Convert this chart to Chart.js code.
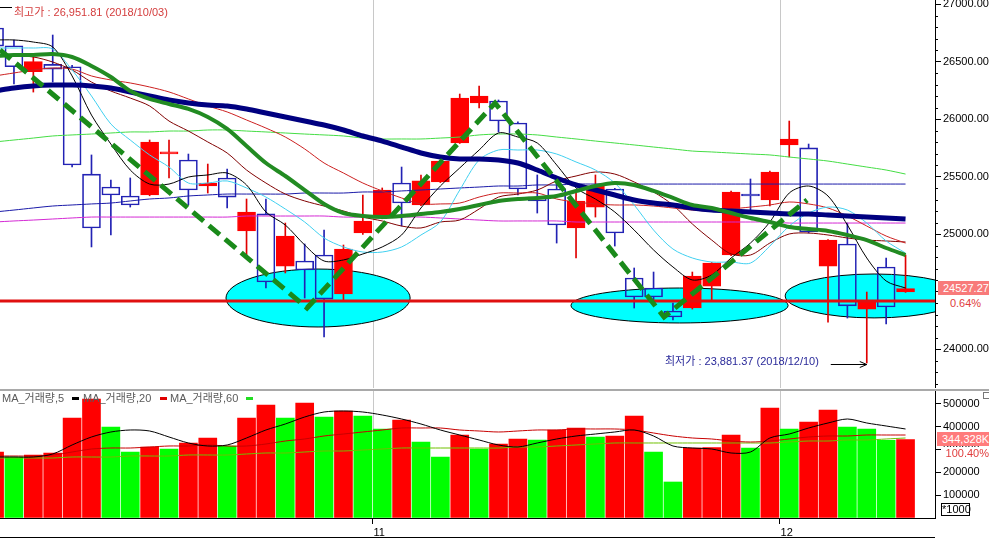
<!DOCTYPE html>
<html>
<head>
<meta charset="utf-8">
<script src="https://cdn.jsdelivr.net/npm/chart.js@4.4.1/dist/chart.umd.min.js"></script>
<style>
  html, body { margin: 0; padding: 0; background: #fff; overflow: hidden; }
  #wrap { position: relative; width: 989px; height: 541px; font-family: "Liberation Sans", "Noto Sans CJK KR", sans-serif; font-size: 11px; }
  canvas { position: absolute; left: 0; }
  #priceCanvas { top: 0; }
  #volCanvas { top: 388px; }
  .t { position: absolute; white-space: nowrap; line-height: 12px; }
  .dash { position: absolute; height: 3px; width: 7px; }
</style>
</head>
<body>
<div id="wrap">
  <canvas id="priceCanvas" width="989" height="388"></canvas>
  <canvas id="volCanvas" width="989" height="153"></canvas>

  <div style="position:absolute;left:0;top:7px;width:12px;height:1px;background:#000"></div>
  <div class="t" style="left:14px;top:6px;color:#d43c3c">최고가 : 26,951.81 (2018/10/03)</div>
  <div class="t" style="left:665px;top:355px;color:#2a2a9a">최저가 : 23,881.37 (2018/12/10)</div>

  <div class="t" style="left:938px;top:281px;width:46px;height:14px;line-height:14px;padding-left:5px;background:#f87a7a;color:#fff">24527.27</div>
  <div class="t" style="left:942px;top:297px;width:47px;text-align:center;background:#fff;color:#e03c3c">0.64%</div>

  <div class="t" style="left:2px;top:392px;color:#5a5a5a">MA_거래량,5</div>
  <div class="dash" style="left:72px;top:397px;background:#000"></div>
  <div class="t" style="left:83px;top:392px;color:#5a5a5a">MA_거래량,20</div>
  <div class="dash" style="left:160px;top:397px;background:#e00000"></div>
  <div class="t" style="left:170px;top:392px;color:#5a5a5a">MA_거래량,60</div>
  <div class="dash" style="left:246px;top:397px;background:#22dd22"></div>

  <div style="position:absolute;left:983px;top:392px;width:5px;height:5px;border:1px solid #777"></div>
  <div class="t" style="left:937px;top:432px;width:47px;height:14px;line-height:14px;padding-left:5px;background:#ff7b7b;color:#fff">344,328K</div>
  <div class="t" style="left:942px;top:447px;width:47px;text-align:right;background:#fff;color:#e03c3c">100.40%</div>
  <div class="t" style="left:941px;top:503px;width:27px;height:11px;line-height:11px;border:1px solid #000;text-align:center;color:#000">*1000</div>
</div>

<script>
// Daily candles, 2018-10-04 .. 2018-12-12
const openP  = [26794, 26640, 26414, 26478, 26457, 25524, 25411, 25333, 25342, 25700, 25646, 25420, 25490, 25029, 25177, 24724, 24768, 24820, 24481, 25011, 25142, 25446, 25255, 25455, 25794, 26142, 26159, 25968, 25324, 25394, 25055, 25237, 25394, 24620, 24533, 24333, 24359, 24550, 24820, 25350, 25298, 25777, 25751, 24724, 24916, 24350, 24716, 24499];
const highP  = [26810, 26690, 26542, 26733, 26470, 25690, 25472, 25490, 25820, 25820, 25698, 25611, 25568, 25307, 25307, 25098, 24916, 25037, 24907, 25342, 25403, 25585, 25516, 25646, 26220, 26290, 26168, 25977, 25516, 25446, 25359, 25516, 25400, 24707, 24672, 24403, 24672, 24755, 25375, 25481, 25550, 25985, 25785, 24955, 25098, 24498, 24794, 24820];
const lowP   = [26620, 26307, 26237, 26324, 25585, 24890, 24994, 25237, 25335, 25490, 25255, 25359, 25229, 24820, 24533, 24664, 24446, 24107, 24429, 25000, 25135, 25072, 25250, 25450, 25790, 26098, 25890, 25342, 25185, 24924, 24794, 25150, 24898, 24359, 24385, 24255, 24350, 24429, 24815, 25203, 25246, 25672, 25011, 24237, 24272, 23881, 24220, 24495];
const closeP = [26637, 26457, 26501, 26437, 25603, 25055, 25342, 25255, 25803, 25714, 25385, 25446, 25324, 25194, 24585, 24985, 24690, 24437, 24872, 25116, 25385, 25272, 25464, 25637, 26185, 26203, 25985, 25394, 25290, 25081, 25290, 25420, 25011, 24455, 24455, 24281, 24637, 24750, 25368, 25333, 25542, 25829, 25020, 24950, 24377, 24420, 24368, 24527];

// price moving averages
const ma5   = [26690, 26690, 26672, 26629, 26377, 26037, 25785, 25559, 25437, 25437, 25498, 25516, 25533, 25429, 25194, 25081, 24907, 24768, 24777, 24829, 24890, 24994, 25229, 25420, 25577, 25733, 25881, 25846, 25794, 25603, 25403, 25307, 25194, 25037, 24864, 24716, 24603, 24646, 24794, 24924, 25107, 25359, 25420, 25333, 25081, 24794, 24594, 24533];
const ma10  = [26620, 26620, 26620, 26611, 26429, 26203, 25959, 25820, 25690, 25585, 25446, 25446, 25464, 25403, 25324, 25220, 25107, 24968, 24890, 24846, 24846, 24890, 24994, 25107, 25385, 25646, 25733, 25733, 25733, 25698, 25629, 25559, 25446, 25255, 25037, 24872, 24794, 24759, 24759, 24750, 24898, 25072, 25185, 25237, 25211, 25098, 24942, 24837];
const ma20  = [26551, 26551, 26542, 26498, 26429, 26324, 26246, 26185, 26116, 25985, 25898, 25803, 25707, 25559, 25446, 25350, 25290, 25246, 25203, 25150, 25116, 25072, 25055, 25107, 25124, 25220, 25324, 25350, 25385, 25464, 25507, 25542, 25524, 25455, 25368, 25255, 25090, 24950, 24829, 24820, 24924, 25003, 25011, 24994, 24968, 24950, 24942, 24933];
const ma30  = [26377, 26403, 26429, 26446, 26437, 26377, 26342, 26316, 26281, 26238, 26177, 26116, 26064, 25994, 25924, 25846, 25742, 25620, 25533, 25446, 25377, 25316, 25264, 25264, 25272, 25324, 25359, 25359, 25359, 25307, 25281, 25264, 25255, 25255, 25246, 25229, 25211, 25203, 25220, 25237, 25255, 25281, 25264, 25229, 25159, 25072, 24985, 24924];
const ma60  = [26551, 26559, 26559, 26568, 26542, 26464, 26368, 26246, 26177, 26133, 26090, 26020, 25916, 25768, 25620, 25507, 25385, 25264, 25185, 25159, 25150, 25159, 25177, 25194, 25220, 25255, 25290, 25307, 25316, 25333, 25377, 25420, 25446, 25429, 25377, 25316, 25255, 25229, 25185, 25142, 25107, 25064, 25046, 25029, 24994, 24950, 24881, 24820];
const ma90  = [26246, 26272, 26290, 26298, 26298, 26290, 26272, 26238, 26203, 26168, 26142, 26124, 26116, 26090, 26055, 26020, 25985, 25950, 25907, 25855, 25811, 25759, 25707, 25672, 25655, 25655, 25646, 25620, 25559, 25490, 25429, 25385, 25342, 25298, 25272, 25255, 25229, 25211, 25203, 25194, 25185, 25177, 25177, 25168, 25159, 25150, 25142, 25133];
const ma120 = [25803, 25820, 25837, 25855, 25864, 25872, 25881, 25890, 25890, 25898, 25898, 25907, 25907, 25898, 25890, 25881, 25872, 25864, 25855, 25837, 25829, 25829, 25829, 25837, 25846, 25864, 25872, 25872, 25864, 25846, 25829, 25811, 25794, 25777, 25759, 25742, 25724, 25716, 25707, 25698, 25690, 25672, 25655, 25637, 25611, 25585, 25559, 25524];
const ma200 = [25194, 25211, 25229, 25246, 25255, 25264, 25272, 25290, 25307, 25316, 25333, 25342, 25350, 25350, 25350, 25350, 25359, 25359, 25359, 25368, 25368, 25377, 25385, 25394, 25403, 25411, 25420, 25420, 25429, 25429, 25437, 25437, 25437, 25437, 25437, 25437, 25437, 25437, 25437, 25437, 25437, 25437, 25437, 25437, 25437, 25437, 25437, 25437];
const ma240 = [25107, 25116, 25124, 25133, 25142, 25150, 25150, 25150, 25150, 25150, 25150, 25150, 25150, 25159, 25159, 25159, 25159, 25159, 25150, 25150, 25150, 25150, 25150, 25142, 25133, 25124, 25116, 25116, 25116, 25116, 25107, 25107, 25107, 25107, 25107, 25107, 25107, 25107, 25107, 25107, 25107, 25098, 25098, 25098, 25098, 25098, 25098, 25098];

// volume (x1000)
const volume = [289500, 267500, 276300, 285100, 438600, 521900, 399100, 289500, 311400, 302600, 329000, 350900, 315800, 438600, 495600, 438600, 504400, 443000, 469300, 447400, 390400, 429800, 333300, 267500, 364000, 302600, 324600, 346500, 342100, 386000, 394700, 355300, 359700, 447400, 289500, 157900, 307000, 309200, 364000, 307000, 482500, 390400, 421100, 473700, 399100, 390400, 341000, 344328];
const volumeBefore = 270000;
const volMa5  = [267500, 267500, 267500, 280700, 320200, 355300, 377200, 386000, 381600, 355300, 329000, 315800, 320200, 350900, 386000, 412300, 443000, 464900, 469300, 464900, 451800, 434200, 412300, 386000, 364000, 342100, 320200, 311400, 329000, 346500, 359700, 368400, 377200, 386000, 359700, 315800, 307000, 302600, 285100, 289500, 350900, 368400, 394700, 416700, 434200, 416700, 403500, 390400];
const volMa20 = [271900, 271900, 271900, 276300, 289500, 302600, 307000, 307000, 311400, 315800, 315800, 320200, 315800, 315800, 324600, 337700, 346500, 359700, 368400, 377200, 386000, 394700, 394700, 394700, 386000, 381600, 377200, 381600, 386000, 386000, 390400, 390400, 390400, 386000, 372800, 359700, 350900, 346500, 337700, 333300, 337700, 346500, 355300, 359700, 359700, 364000, 364000, 364000];
const volMa60 = [263200, 263200, 263200, 263200, 267500, 267500, 267500, 271900, 271900, 271900, 276300, 276300, 276300, 280700, 285100, 285100, 289500, 293900, 293900, 298200, 302600, 307000, 307000, 307000, 307000, 307000, 307000, 311400, 311400, 315800, 320200, 324600, 329000, 329000, 329000, 329000, 329000, 329000, 329000, 329000, 329000, 333300, 337700, 337700, 342100, 342100, 346500, 350900];

// month boundaries (between day slots) and their labels
const monthStarts = [19.5, 40.5];
const monthLabels = ['11', '12'];

// axis ticks
const priceTicksFrom = 23700, priceTicksTo = 27000, priceMinorStep = 100, priceMajorStep = 500;
const volumeTicks = [0, 100000, 200000, 300000, 400000, 500000];

// drawn annotations, in day-index / price units
const supportPrice = 24420;
const trendDay   = [0.28, 16.12, 25.82, 34.54, 41.92];
const trendPrice = [26603, 24359, 26142, 24281, 25298];
const zoneDay      = [16.69, 35.34, 45.38];
const zoneDaySpan  = [4.75, 5.6, 4.59];
const zonePrice    = [24446, 24381, 24464];
const zonePriceSpan = [252, 152, 191];

const xMin = 0.28, xMax = 48.52;
const FONT = "'Liberation Sans', 'Noto Sans CJK KR', sans-serif";
Chart.defaults.font.family = FONT;
Chart.defaults.font.size = 11;

const RED = '#ff0000', BLUE = '#2222b4';
const days = closeP.map((_, i) => i);
const up = days.map(i => closeP[i] >= openP[i]);
const xy = arr => arr.map((v, i) => ({ x: i, y: v }));
const maLine = (data, color, width, order) => ({
  type: 'line', data: xy(data), borderColor: color, borderWidth: width,
  pointRadius: 0, tension: 0.3, fill: false, order
});

const priceDecor = {
  id: 'priceDecor',
  beforeDatasetsDraw(chart) {
    const { ctx, chartArea: a, scales: { x, y } } = chart;
    ctx.save();
    ctx.beginPath();
    ctx.rect(a.left, a.top, a.right - a.left, a.bottom - a.top);
    ctx.clip();
    ctx.strokeStyle = '#c8c8c8';
    ctx.lineWidth = 1;
    monthStarts.forEach(m => {
      const px = Math.round(x.getPixelForValue(m)) + 0.5;
      ctx.beginPath(); ctx.moveTo(px, a.top); ctx.lineTo(px, a.bottom); ctx.stroke();
    });
    zoneDay.forEach((d, i) => {
      const cx = x.getPixelForValue(d), cy = y.getPixelForValue(zonePrice[i]);
      const rx = x.getPixelForValue(d + zoneDaySpan[i]) - cx;
      const ry = cy - y.getPixelForValue(zonePrice[i] + zonePriceSpan[i]);
      ctx.beginPath();
      ctx.ellipse(cx, cy, rx, ry, 0, 0, Math.PI * 2);
      ctx.fillStyle = '#00ffff';
      ctx.fill();
      ctx.strokeStyle = '#000';
      ctx.stroke();
    });
    ctx.restore();
  },
  afterDraw(chart) {
    const { ctx, scales: { x, y } } = chart;
    ctx.save();
    ctx.strokeStyle = '#000';
    ctx.lineWidth = 1;
    y.ticks.forEach(t => {
      if (t.value % priceMajorStep === 0) return;
      const py = Math.round(y.getPixelForValue(t.value)) + 0.5;
      ctx.beginPath(); ctx.moveTo(y.left, py); ctx.lineTo(y.left + 3, py); ctx.stroke();
    });
    // arrow to the lowest low
    const lowDay = lowP.indexOf(Math.min(...lowP));
    const ex = x.getPixelForValue(lowDay), ey = Math.round(y.getPixelForValue(lowP[lowDay])) + 1.5;
    ctx.beginPath();
    ctx.moveTo(ex - 36, ey); ctx.lineTo(ex, ey);
    ctx.moveTo(ex - 7, ey - 3); ctx.lineTo(ex, ey); ctx.lineTo(ex - 7, ey + 3);
    ctx.stroke();
    ctx.restore();
  }
};

new Chart(document.getElementById('priceCanvas'), {
  type: 'bar',
  data: {
    datasets: [
      { type: 'bar', data: days.map(i => ({ x: i, y: [Math.max(openP[i], closeP[i]), highP[i]] })),
        backgroundColor: up.map(u => u ? '#e00000' : BLUE), barThickness: 1, grouped: false, order: 30 },
      { type: 'bar', data: days.map(i => ({ x: i, y: [lowP[i], Math.min(openP[i], closeP[i])] })),
        backgroundColor: up.map(u => u ? '#e00000' : BLUE), barThickness: 1, grouped: false, order: 30 },
      { type: 'bar', data: days.map(i => ({ x: i, y: [openP[i], closeP[i]] })),
        backgroundColor: up.map(u => u ? RED : 'rgba(0,0,0,0)'), borderColor: up.map(u => u ? RED : BLUE),
        borderWidth: 1, borderSkipped: false, barThickness: 18, minBarLength: 2, grouped: false, order: 29 },
      maLine(ma240, '#d428d4', 1, 20),
      maLine(ma200, '#1a1aa8', 1, 19),
      maLine(ma120, '#44dd44', 1, 18),
      maLine(ma20, '#800000', 1, 17),
      maLine(ma30, '#cc2020', 1, 16),
      maLine(ma10, '#40d0f0', 1, 15),
      maLine(ma5, '#000000', 1, 14),
      maLine(ma90, '#000080', 5, 12),
      maLine(ma60, '#228b22', 4, 11),
      { type: 'line', data: [{ x: xMin, y: supportPrice }, { x: xMax, y: supportPrice }],
        borderColor: '#e01010', borderWidth: 3, pointRadius: 0, order: 5 },
      { type: 'line', data: trendDay.map((d, i) => ({ x: d, y: trendPrice[i] })),
        borderColor: '#1a8a1a', borderWidth: 5, borderDash: [14, 7], pointRadius: 0, tension: 0, order: 4 }
    ]
  },
  options: {
    responsive: false,
    animation: false,
    events: [],
    layout: { padding: 0 },
    plugins: { legend: { display: false }, tooltip: { enabled: false } },
    scales: {
      x: { type: 'linear', min: xMin, max: xMax, offset: false, bounds: 'data', display: false },
      y: {
        type: 'linear', position: 'right', min: 23663.5, max: 27037.5, bounds: 'data', beginAtZero: false,
        afterBuildTicks: s => {
          const list = [];
          for (let v = priceTicksFrom; v <= priceTicksTo; v += priceMinorStep) list.push({ value: v });
          s.ticks = list;
        },
        afterFit: s => { s.width = 54; s.paddingTop = 0; s.paddingBottom = 0; },
        ticks: {
          autoSkip: false, padding: 2, color: '#000',
          callback: v => v % priceMajorStep === 0 ? v.toFixed(2) : ''
        },
        grid: {
          drawOnChartArea: false, offset: false, tickLength: 6,
          tickColor: c => (c.tick && c.tick.value % priceMajorStep === 0) ? '#000' : 'rgba(0,0,0,0)'
        },
        border: { display: true, color: '#000', width: 1 }
      }
    }
  },
  plugins: [priceDecor]
});

const volDecor = {
  id: 'volDecor',
  beforeDatasetsDraw(chart) {
    const { ctx, chartArea: a, scales: { x } } = chart;
    ctx.save();
    ctx.strokeStyle = '#c8c8c8';
    ctx.lineWidth = 1;
    monthStarts.forEach(m => {
      const px = Math.round(x.getPixelForValue(m)) + 0.5;
      ctx.beginPath(); ctx.moveTo(px, a.top); ctx.lineTo(px, a.bottom); ctx.stroke();
    });
    ctx.restore();
  },
  afterDraw(chart) {
    const { ctx, scales: { x } } = chart;
    ctx.save();
    ctx.fillStyle = '#a9a9a9';
    ctx.fillRect(0, 1, chart.width, 2);
    ctx.fillStyle = '#000';
    ctx.fillRect(0, 149, x.right, 1);
    ctx.restore();
  }
};

new Chart(document.getElementById('volCanvas'), {
  type: 'bar',
  data: {
    datasets: [
      { type: 'bar', data: xy(volume),
        backgroundColor: volume.map((v, i) => v >= (i ? volume[i - 1] : volumeBefore) ? '#ff0000' : '#00ff00'),
        barThickness: 18, grouped: false, order: 10 },
      maLine(volMa60, '#70c000', 1, 3),
      maLine(volMa20, '#c80000', 1, 2),
      maLine(volMa5, '#000000', 1, 1)
    ]
  },
  options: {
    responsive: false,
    animation: false,
    events: [],
    layout: { padding: { top: 3, left: 0, right: 0, bottom: 0 } },
    plugins: { legend: { display: false }, tooltip: { enabled: false } },
    scales: {
      x: {
        type: 'linear', min: xMin, max: xMax, offset: false, bounds: 'data', position: 'bottom',
        afterBuildTicks: s => { s.ticks = monthStarts.map(v => ({ value: v })); },
        afterFit: s => { s.height = 23; s.paddingLeft = 0; s.paddingRight = 0; },
        ticks: {
          autoSkip: false, maxRotation: 0, minRotation: 0, align: 'start', labelOffset: 1, padding: 2, color: '#000',
          callback: (v, i) => monthLabels[i]
        },
        grid: { drawOnChartArea: false, offset: false, tickLength: 6, tickColor: '#000' },
        border: { display: true, color: '#000', width: 1 }
      },
      y: {
        type: 'linear', position: 'right', min: 0, max: 557000, bounds: 'data',
        afterBuildTicks: s => { s.ticks = volumeTicks.map(v => ({ value: v })); },
        afterFit: s => { s.width = 54; s.paddingTop = 0; s.paddingBottom = 0; },
        ticks: {
          autoSkip: false, padding: 2, color: '#000',
          callback: v => v === 0 ? '' : String(v)
        },
        grid: {
          drawOnChartArea: false, offset: false, tickLength: 6,
          tickColor: c => (c.tick && c.tick.value === 0) ? 'rgba(0,0,0,0)' : '#000'
        },
        border: { display: true, color: '#000', width: 1 }
      }
    }
  },
  plugins: [volDecor]
});
</script>
</body>
</html>
